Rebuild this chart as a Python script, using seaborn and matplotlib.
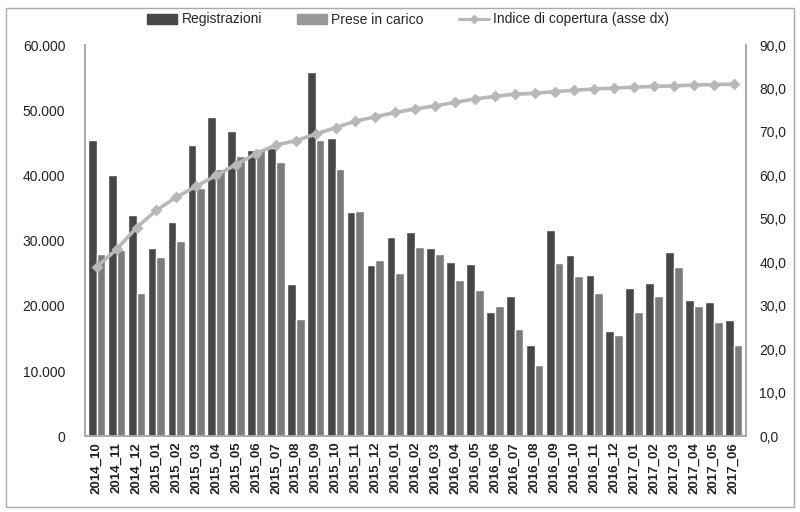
import matplotlib
matplotlib.use("Agg")
import matplotlib.pyplot as plt
import seaborn as sns
import pandas as pd
from matplotlib.patches import Rectangle
from matplotlib.lines import Line2D
from matplotlib.ticker import FuncFormatter

months = ["2014_10", "2014_11", "2014_12",
          "2015_01", "2015_02", "2015_03", "2015_04", "2015_05", "2015_06",
          "2015_07", "2015_08", "2015_09", "2015_10", "2015_11", "2015_12",
          "2016_01", "2016_02", "2016_03", "2016_04", "2016_05", "2016_06",
          "2016_07", "2016_08", "2016_09", "2016_10", "2016_11", "2016_12",
          "2017_01", "2017_02", "2017_03", "2017_04", "2017_05", "2017_06"]

registrazioni = [45400, 40000, 34000, 28800, 32800, 44600, 48900, 46800, 43900,
                 44200, 23300, 55800, 45700, 34400, 26200, 30500, 31300, 28800,
                 26700, 26400, 19000, 21500, 14000, 31700, 27800, 24700, 16100,
                 22700, 23500, 28200, 20900, 20600, 17800]

prese_in_carico = [28000, 28500, 22000, 27500, 30000, 38000, 41000, 43000, 44000,
                   42000, 18000, 45500, 41000, 34500, 27000, 25000, 29000, 28000,
                   24000, 22500, 20000, 16500, 11000, 26500, 24500, 22000, 15500,
                   19000, 21500, 26000, 20000, 17500, 14000]

indice = [39.0, 43.0, 48.0, 52.0, 55.0, 57.5, 60.0, 62.5, 65.0, 67.0, 68.0,
          69.5, 71.0, 72.5, 73.5, 74.5, 75.3, 76.0, 76.8, 77.6, 78.2, 78.7,
          78.9, 79.3, 79.6, 79.9, 80.1, 80.3, 80.5, 80.6, 80.8, 80.9, 81.0]

series_names = ["Registrazioni", "Prese in carico", "Indice di copertura (asse dx)"]
colors = ["#474747", "#7c7c7c", "#b8b8b8"]

sns.set_theme(style="white")
plt.rcParams["font.family"] = ["Liberation Sans", "DejaVu Sans"]

df = pd.DataFrame({
    "mese": months * 2,
    "valore": registrazioni + prese_in_carico,
    "serie": [series_names[0]] * len(months) + [series_names[1]] * len(months),
})

fig = plt.figure(figsize=(8, 5.12), dpi=100)
ax = fig.add_axes([0.106, 0.148, 0.826, 0.764])

sns.barplot(data=df, x="mese", y="valore", hue="serie", order=months,
            palette=colors[:2], width=0.88, gap=0.0, ax=ax, legend=False,
            errorbar=None, saturation=1)
ax.set_ylim(0, 60000)
ax.set_yticks(range(0, 60001, 10000))
ax.yaxis.set_major_formatter(FuncFormatter(lambda v, p: f"{int(v):,}".replace(",", ".")))
ax.set_xlabel("")
ax.set_ylabel("")
ax.tick_params(axis="x", rotation=90, labelsize=9.5, length=0, pad=4)
ax.tick_params(axis="y", labelsize=10, length=0, pad=14)
for lab in ax.get_xticklabels():
    lab.set_fontweight("bold")
    lab.set_color("#222222")
for lab in ax.get_yticklabels():
    lab.set_color("#222222")

ax2 = ax.twinx()
sns.pointplot(x=months, y=indice, order=months, ax=ax2, color=colors[2],
              markers="D", markersize=4, linewidth=2.6, errorbar=None)
ax2.set_ylim(0, 90)
ax2.set_yticks(range(0, 91, 10))
ax2.yaxis.set_major_formatter(FuncFormatter(lambda v, p: f"{v:.1f}".replace(".", ",")))
ax2.tick_params(axis="y", labelsize=10, length=0, pad=10)
ax2.set_ylabel("")
for lab in ax2.get_yticklabels():
    lab.set_color("#222222")
ax.set_xlim(-0.6, len(months) - 0.4)

for a in (ax, ax2):
    a.spines["top"].set_visible(False)
    a.spines["left"].set_color("#aaaaaa")
    a.spines["right"].set_color("#aaaaaa")
    a.spines["bottom"].set_color("#aaaaaa")

handles = [Rectangle((0, 0), 1, 1, color=colors[0]),
           Rectangle((0, 0), 1, 1, color="#999999"),
           Line2D([0], [0], color=colors[2], lw=2.2, marker="D", markersize=4)]
fig.legend(handles, series_names, loc="upper center", bbox_to_anchor=(0.51, 1.0),
           ncol=3, frameon=False, fontsize=10, handlelength=2.2,
           columnspacing=2.5, handletextpad=0.3)

border = Rectangle((0.008, 0.01), 0.984, 0.975, transform=fig.transFigure,
                   fill=False, edgecolor="#aaaaaa", linewidth=1)
fig.patches.append(border)

fig.savefig("out.png", dpi=100)
